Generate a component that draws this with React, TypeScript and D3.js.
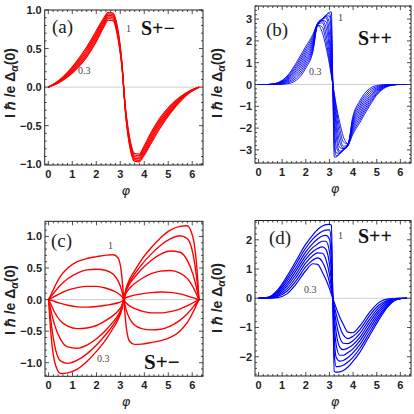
import React from "react";
import * as d3 from "d3";

// phase grid for panels (a), (b), (d)
const PHI = [0, 0.4, 0.8, 1.2, 1.6, 2.0, 2.3, 2.5, 2.7, 2.85, 3.0, 3.08, 3.1416, 3.2032, 3.2832, 3.4332, 3.5832, 3.7832, 3.9832, 4.2832, 4.6832, 5.0832, 5.4832, 5.8832, 6.2832];
// phase grid for panel (c)
const PHI_C = [0, 0.1, 0.25, 0.5, 0.8, 1.2, 1.6, 2.0, 2.4, 2.7, 2.9, 3.05, 3.1416, 3.2332, 3.3832, 3.5832, 3.8832, 4.2832, 4.6832, 5.0832, 5.4832, 5.7832, 6.0332, 6.1832, 6.2832];

const X_TICKS = [0, 1, 2, 3, 4, 5, 6];
const Y_TICKS_AC = [-1.0, -0.5, 0, 0.5, 1.0];
const Y_TICKS_B = [-3, -2, -1, 0, 1, 2, 3];
const Y_TICKS_D = [-2, -1, 0, 1, 2];

// (a) S+-  curves 0.3 ... 1
const A1 = [0, 0.05, 0.13, 0.24, 0.39, 0.59, 0.77, 0.87, 0.86, 0.72, 0.44, 0.23, 0, -0.23, -0.44, -0.72, -0.86, -0.87, -0.77, -0.59, -0.39, -0.24, -0.13, -0.05, 0];
const A2 = [0, 0.055, 0.142, 0.26, 0.416, 0.618, 0.794, 0.89, 0.88, 0.742, 0.458, 0.24, 0, -0.24, -0.458, -0.742, -0.88, -0.89, -0.794, -0.618, -0.416, -0.26, -0.142, -0.055, 0];
const A3 = [0, 0.06, 0.154, 0.28, 0.442, 0.646, 0.818, 0.91, 0.90, 0.764, 0.476, 0.25, 0, -0.25, -0.476, -0.764, -0.90, -0.91, -0.818, -0.646, -0.442, -0.28, -0.154, -0.06, 0];
const A4 = [0, 0.065, 0.166, 0.30, 0.468, 0.674, 0.842, 0.93, 0.92, 0.786, 0.494, 0.26, 0, -0.26, -0.494, -0.786, -0.92, -0.93, -0.842, -0.674, -0.468, -0.30, -0.166, -0.065, 0];
const A5 = [0, 0.07, 0.178, 0.32, 0.494, 0.702, 0.866, 0.95, 0.94, 0.808, 0.512, 0.27, 0, -0.27, -0.512, -0.808, -0.94, -0.95, -0.866, -0.702, -0.494, -0.32, -0.178, -0.07, 0];
const A6 = [0, 0.075, 0.19, 0.34, 0.52, 0.73, 0.89, 0.97, 0.96, 0.83, 0.53, 0.28, 0, -0.28, -0.53, -0.83, -0.96, -0.97, -0.89, -0.73, -0.52, -0.34, -0.19, -0.075, 0];

// (b) S++  curves 0.3 ... 1
const B0 = [0, 0, 0, 0.03, 0.2, 0.75, 1.5, 2.70, 2.38, 1.74, 0.93, 0.40, 0, -0.40, -0.93, -1.74, -2.38, -2.70, -1.5, -0.75, -0.2, -0.03, 0, 0, 0];
const B1 = [0, 0, 0.01, 0.07, 0.29, 0.86, 1.59, 2.72, 2.63, 2.01, 1.08, 0.49, 0, -0.49, -1.08, -2.01, -2.63, -2.72, -1.59, -0.86, -0.29, -0.07, -0.01, 0, 0];
const B2 = [0, 0, 0.02, 0.11, 0.38, 0.97, 1.68, 2.74, 2.83, 2.32, 1.32, 0.61, 0, -0.61, -1.32, -2.32, -2.83, -2.74, -1.68, -0.97, -0.38, -0.11, -0.02, 0, 0];
const B3 = [0, 0, 0.03, 0.15, 0.47, 1.08, 1.77, 2.75, 2.91, 2.64, 1.62, 0.77, 0, -0.77, -1.62, -2.64, -2.91, -2.75, -1.77, -1.08, -0.47, -0.15, -0.03, 0, 0];
const B4 = [0, 0, 0.04, 0.19, 0.56, 1.19, 1.86, 2.76, 2.94, 2.89, 1.94, 0.96, 0, -0.96, -1.94, -2.89, -2.94, -2.76, -1.86, -1.19, -0.56, -0.19, -0.04, 0, 0];
const B5 = [0, 0, 0.04, 0.22, 0.64, 1.31, 1.94, 2.77, 2.97, 3.06, 2.37, 1.25, 0, -1.25, -2.37, -3.06, -2.97, -2.77, -1.94, -1.31, -0.64, -0.22, -0.04, 0, 0];
const B6 = [0, 0, 0.05, 0.26, 0.73, 1.42, 2.03, 2.78, 2.99, 3.12, 2.83, 1.70, 0, -1.70, -2.83, -3.12, -2.99, -2.78, -2.03, -1.42, -0.73, -0.26, -0.05, 0, 0];
const B7 = [0, 0, 0.06, 0.30, 0.82, 1.53, 2.12, 2.79, 3.0, 3.15, 3.14, 2.27, 0, -2.27, -3.14, -3.15, -3.0, -2.79, -2.12, -1.53, -0.82, -0.30, -0.06, 0, 0];
const B8 = [0, 0, 0.07, 0.34, 0.91, 1.64, 2.21, 2.80, 3.0, 3.17, 3.26, 2.84, 0, -2.84, -3.26, -3.17, -3.0, -2.80, -2.21, -1.64, -0.91, -0.34, -0.07, 0, 0];
const B9 = [0, 0, 0.08, 0.38, 1.0, 1.75, 2.3, 2.82, 3.02, 3.19, 3.32, 3.33, 0, -3.33, -3.32, -3.19, -3.02, -2.82, -2.3, -1.75, -1.0, -0.38, -0.08, 0, 0];

// (c) S+-  curves 1 ... 0.3
const C1 = [0, 0.08, 0.2, 0.37, 0.5, 0.6, 0.65, 0.68, 0.705, 0.71, 0.66, 0.4, 0, -0.4, -0.66, -0.71, -0.705, -0.68, -0.65, -0.6, -0.5, -0.37, -0.2, -0.08, 0];
const C2 = [0, 0.05, 0.12, 0.23, 0.33, 0.42, 0.47, 0.48, 0.46, 0.4, 0.3, 0.15, 0, -0.15, -0.3, -0.4, -0.46, -0.48, -0.47, -0.42, -0.33, -0.23, -0.12, -0.05, 0];
const C3 = [0, 0.02, 0.05, 0.1, 0.15, 0.19, 0.21, 0.21, 0.18, 0.14, 0.1, 0.05, 0, -0.05, -0.1, -0.14, -0.18, -0.21, -0.21, -0.19, -0.15, -0.1, -0.05, -0.02, 0];
const C4 = [0, -0.01, -0.03, -0.06, -0.09, -0.115, -0.12, -0.11, -0.09, -0.07, -0.05, -0.03, 0, 0.03, 0.05, 0.07, 0.09, 0.11, 0.12, 0.115, 0.09, 0.06, 0.03, 0.01, 0];
const C5 = [0, -0.08, -0.2, -0.34, -0.42, -0.46, -0.45, -0.41, -0.33, -0.25, -0.18, -0.1, 0, 0.1, 0.18, 0.25, 0.33, 0.41, 0.45, 0.46, 0.42, 0.34, 0.2, 0.08, 0];
const C6 = [0, -0.18, -0.4, -0.63, -0.75, -0.77, -0.72, -0.62, -0.48, -0.35, -0.25, -0.13, 0, 0.13, 0.25, 0.35, 0.48, 0.62, 0.72, 0.77, 0.75, 0.63, 0.4, 0.18, 0];
const C7 = [0, -0.35, -0.72, -0.97, -1.01, -0.96, -0.86, -0.72, -0.55, -0.4, -0.28, -0.15, 0, 0.15, 0.28, 0.4, 0.55, 0.72, 0.86, 0.96, 1.01, 0.97, 0.72, 0.35, 0];
const C8 = [0, -0.55, -0.98, -1.17, -1.16, -1.1, -0.98, -0.82, -0.63, -0.45, -0.32, -0.17, 0, 0.17, 0.32, 0.45, 0.63, 0.82, 0.98, 1.1, 1.16, 1.17, 0.98, 0.55, 0];

// (d) S++  curves 0.3 ... 1
const D0 = [0, 0, 0.02, 0.15, 0.50, 0.95, 1.18, 1.16, 0.89, 0.64, 0.33, 0.14, 0, -0.14, -0.33, -0.64, -0.89, -1.16, -1.18, -0.95, -0.50, -0.15, -0.02, 0, 0];
const D1 = [0, 0, 0.06, 0.24, 0.61, 1.08, 1.31, 1.38, 1.25, 0.97, 0.54, 0.25, 0, -0.25, -0.54, -0.97, -1.25, -1.38, -1.31, -1.08, -0.61, -0.24, -0.06, 0, 0];
const D2 = [0, 0.01, 0.09, 0.32, 0.73, 1.21, 1.46, 1.55, 1.54, 1.33, 0.82, 0.40, 0, -0.40, -0.82, -1.33, -1.54, -1.55, -1.46, -1.21, -0.73, -0.32, -0.09, -0.01, 0];
const D3 = [0, 0.01, 0.13, 0.41, 0.84, 1.34, 1.60, 1.70, 1.76, 1.67, 1.17, 0.60, 0, -0.60, -1.17, -1.67, -1.76, -1.70, -1.60, -1.34, -0.84, -0.41, -0.13, -0.01, 0];
const D4 = [0, 0.02, 0.17, 0.49, 0.96, 1.46, 1.74, 1.86, 1.95, 1.95, 1.59, 0.90, 0, -0.90, -1.59, -1.95, -1.95, -1.86, -1.74, -1.46, -0.96, -0.49, -0.17, -0.02, 0];
const D5 = [0, 0.02, 0.21, 0.58, 1.07, 1.59, 1.88, 2.03, 2.13, 2.15, 2.02, 1.31, 0, -1.31, -2.02, -2.15, -2.13, -2.03, -1.88, -1.59, -1.07, -0.58, -0.21, -0.02, 0];
const D6 = [0, 0.03, 0.24, 0.66, 1.19, 1.72, 2.03, 2.18, 2.29, 2.33, 2.34, 1.91, 0, -1.91, -2.34, -2.33, -2.29, -2.18, -2.03, -1.72, -1.19, -0.66, -0.24, -0.03, 0];
const D7 = [0, 0.03, 0.28, 0.75, 1.30, 1.85, 2.17, 2.35, 2.47, 2.52, 2.53, 2.50, 0, -2.50, -2.53, -2.52, -2.47, -2.35, -2.17, -1.85, -1.30, -0.75, -0.28, -0.03, 0];

const SERIES_A = [A1, A2, A3, A4, A5, A6];
const SERIES_B = [B0, B1, B2, B3, B4, B5, B6, B7, B8, B9];
const SERIES_C = [C1, C2, C3, C4, C5, C6, C7, C8];
const SERIES_D = [D0, D1, D2, D3, D4, D5, D6, D7];

const X_DOMAIN: [number, number] = [-0.15, 6.45];

type Cfg = {
  id: string;
  l: number; r: number; t: number; b: number;
  yDomain: [number, number];
  yTicks: number[];
  yMinor: number;
  dec: number;
  phi: number[];
  series: number[][];
  color: string;
  lw: number;
  tag: string; tagX: number; tagY: number;
  sym: string; symX: number; symY: number; symSize: number;
  lab1X: number; lab1Y: number;
  lab03X: number; lab03Y: number;
  yLabX: number; yLabY: number;
};

const PANELS: Cfg[] = [
  {
    id: "a", l: 44.7, r: 203, t: 10, b: 165, yDomain: [-1.01, 1.0], yTicks: Y_TICKS_AC, yMinor: 0.1, dec: 1,
    phi: PHI, series: SERIES_A, color: "#ff0000", lw: 1.2,
    tag: "(a)", tagX: 52, tagY: 33, sym: "S+\u2212", symX: 141, symY: 35, symSize: 20,
    lab1X: 126, lab1Y: 32, lab03X: 78, lab03Y: 74, yLabX: 15, yLabY: 83,
  },
  {
    id: "b", l: 255, r: 411, t: 6, b: 163, yDomain: [-3.6, 3.6], yTicks: Y_TICKS_B, yMinor: 0.2, dec: 0,
    phi: PHI, series: SERIES_B, color: "#0000ff", lw: 0.9,
    tag: "(b)", tagX: 266, tagY: 36, sym: "S++", symX: 358, symY: 45, symSize: 20,
    lab1X: 338, lab1Y: 21, lab03X: 309, lab03Y: 75, yLabX: 222, yLabY: 83,
  },
  {
    id: "c", l: 45, r: 203, t: 221.3, b: 376.3, yDomain: [-1.215, 1.24], yTicks: Y_TICKS_AC, yMinor: 0.1, dec: 1,
    phi: PHI_C, series: SERIES_C, color: "#ff0000", lw: 1.4,
    tag: "(c)", tagX: 51, tagY: 247, sym: "S+\u2212", symX: 144, symY: 369, symSize: 21,
    lab1X: 108, lab1Y: 248.5, lab03X: 97, lab03Y: 362, yLabX: 15, yLabY: 300,
  },
  {
    id: "d", l: 255, r: 411, t: 220.5, b: 376, yDomain: [-2.66, 2.66], yTicks: Y_TICKS_D, yMinor: 0.2, dec: 0,
    phi: PHI, series: SERIES_D, color: "#0000ff", lw: 1.2,
    tag: "(d)", tagX: 269, tagY: 244, sym: "S++", symX: 358, symY: 243, symSize: 20,
    lab1X: 338, lab1Y: 238.5, lab03X: 304, lab03Y: 293, yLabX: 222, yLabY: 298,
  },
];

const fmt = (v: number, dec: number) => {
  const s = Math.abs(v).toFixed(dec);
  return (v < -1e-9 ? "\u2212" : "") + s;
};

function Panel({ c }: { c: Cfg }) {
  const x = d3.scaleLinear().domain(X_DOMAIN).range([c.l, c.r]);
  const y = d3.scaleLinear().domain(c.yDomain).range([c.b, c.t]);
  const line = d3
    .line<[number, number]>()
    .x((d) => x(d[0]))
    .y((d) => y(d[1]))
    .curve(d3.curveMonotoneX);

  const xMinor = d3.range(0, 6.45, 0.2).map((v) => Math.round(v * 10) / 10);
  const yLo = Math.ceil(c.yDomain[0] / c.yMinor - 1e-6);
  const yHi = Math.floor(c.yDomain[1] / c.yMinor + 1e-6);
  const yMinor = d3.range(yLo, yHi + 1).map((k) => k * c.yMinor);

  const maj = 4;
  const min = 2;
  const tickStroke = "#222";
  const clipId = "clip-" + c.id;

  return (
    <g>
      <defs>
        <clipPath id={clipId}>
          <rect x={c.l} y={c.t} width={c.r - c.l} height={c.b - c.t} />
        </clipPath>
      </defs>
      <line x1={c.l} x2={c.r} y1={y(0)} y2={y(0)} stroke="#c8c8c8" strokeWidth={0.9} />
      <g clipPath={`url(#${clipId})`}>
        {c.series.map((s, i) => (
          <path
            key={i}
            d={line(s.map((v, j) => [c.phi[j], v] as [number, number])) || ""}
            fill="none"
            stroke={c.color}
            strokeWidth={c.lw}
          />
        ))}
      </g>
      <g stroke={tickStroke} strokeWidth={0.8}>
        {xMinor.map((v, i) => {
          const isMaj = Math.abs(v - Math.round(v)) < 1e-6;
          const L = isMaj ? maj : min;
          return (
            <g key={"xm" + i}>
              <line x1={x(v)} x2={x(v)} y1={c.b} y2={c.b - L} />
              <line x1={x(v)} x2={x(v)} y1={c.t} y2={c.t + L} />
            </g>
          );
        })}
        {yMinor.map((v, i) => {
          const isMaj = c.yTicks.some((t) => Math.abs(t - v) < 1e-6);
          const L = isMaj ? maj : min;
          return (
            <g key={"ym" + i}>
              <line x1={c.l} x2={c.l + L} y1={y(v)} y2={y(v)} />
              <line x1={c.r} x2={c.r - L} y1={y(v)} y2={y(v)} />
            </g>
          );
        })}
      </g>
      <rect x={c.l} y={c.t} width={c.r - c.l} height={c.b - c.t} fill="none" stroke="#222" strokeWidth={1} />
      <g fontFamily="'Liberation Sans', Arial, sans-serif" fontWeight="bold" fontSize={11} fill="#222">
        {X_TICKS.map((v) => (
          <text key={"xt" + v} x={x(v)} y={c.b + 12.5} textAnchor="middle">
            {String(v)}
          </text>
        ))}
        {c.yTicks.map((v) => (
          <text key={"yt" + v} x={c.l - 3} y={y(v) + 4} textAnchor="end">
            {fmt(v, c.dec)}
          </text>
        ))}
      </g>
      <text
        x={(c.l + c.r) / 2 + 2}
        y={c.b + 30}
        textAnchor="middle"
        fontFamily="'DejaVu Sans', sans-serif"
        fontStyle="italic"
        fontSize={13}
        fill="#222"
      >
        {"\u03C6"}
      </text>
      <text
        transform={`translate(${c.yLabX},${c.yLabY}) rotate(-90)`}
        textAnchor="middle"
        fontFamily="'Liberation Sans', Arial, sans-serif"
        fontWeight="bold"
        fontSize={14}
        fill="#222"
      >
        <tspan>{"I \u210F /e \u0394"}</tspan>
        <tspan fontSize={10.5} dy={3} fontStyle="italic">{"\u03B1"}</tspan>
        <tspan dy={-3}>{"(0)"}</tspan>
      </text>
      <text x={c.tagX} y={c.tagY} fontFamily="'Liberation Serif', 'Times New Roman', serif" fontSize={19} fill="#222">
        {c.tag}
      </text>
      <text
        x={c.symX}
        y={c.symY}
        fontFamily="'Liberation Serif', 'Times New Roman', serif"
        fontWeight="bold"
        fontSize={c.symSize}
        fill="#111"
      >
        {c.sym}
      </text>
      <g fontFamily="'Liberation Serif', 'Times New Roman', serif" fontSize={10} fill="#444">
        <text x={c.lab1X} y={c.lab1Y}>1</text>
        <text x={c.lab03X} y={c.lab03Y}>0.3</text>
      </g>
    </g>
  );
}

export default function App() {
  return (
    <svg
      width={414}
      height={414}
      viewBox="0 0 414 414"
      style={{ position: "absolute", left: 0, top: 0, background: "#fff" }}
    >
      <rect x={0} y={0} width={414} height={414} fill="#fff" />
      {PANELS.map((c) => (
        <Panel key={c.id} c={c} />
      ))}
    </svg>
  );
}
